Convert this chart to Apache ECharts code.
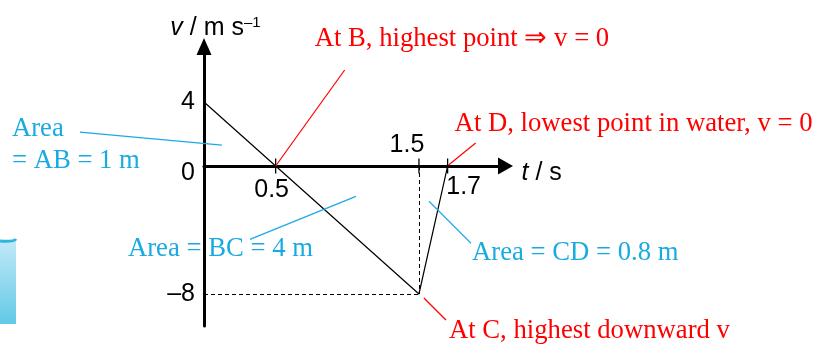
<!DOCTYPE html>
<html>
<head>
<meta charset="utf-8">
<script src="https://cdn.jsdelivr.net/npm/echarts@6/dist/echarts.min.js"></script>
<style>
  html, body { margin: 0; padding: 0; background: #fff; }
  #chart { width: 817px; height: 345px; }
</style>
</head>
<body>
<div id="chart"></div>
<script>
// Velocity–time graph of a diver: A (jump) → B (top) → C (hits water) → D (lowest point)
const timeValues = [0, 0.5, 1.5, 1.7];      // t / s
const velocityValues = [4, 0, -8, 0];       // v / m s^-1
const xTickValues = [0.5, 1.5, 1.7];
const xTickLabels = ['0.5', '1.5', '1.7'];
const yTickValues = [4, 0, -8];
const yTickLabels = ['4', '0', '–8'];

const noteB = 'At B, highest point ⇒ v = 0';
const noteD = 'At D, lowest point in water, v = 0';
const noteC = 'At C, highest downward v';
const noteAB = ['Area', '= AB = 1 m'];
const noteBC = ['Area = BC = 4 m'];
const noteCD = ['Area = CD = 0.8 m'];

// points inside each area where the pointer lines end
const areaPointAB = [0.125, 1.3];
const areaPointBC = [1.06, -1.9];
const areaPointCD = [1.57, -2.2];

const RED = '#ff0000';
const BLUE = '#1aaae2';
const SANS = '"Liberation Sans", Arial, sans-serif';
const SERIF = '"Liberation Serif", "Times New Roman", serif';
const SANS_SIZE = 25;
const SERIF_SIZE = 26.7;

const pt = i => [timeValues[i], velocityValues[i]];

// pointer line (pixel offsets from the anchor) and text placement for each note
const notes = [
  { at: pt(1), color: RED, lead: [[0, 0], [69, -96]], lines: [noteB], tx: 39, ty: [-127] },
  { at: pt(3), color: RED, lead: [[1, -1], [28, -23]], lines: [noteD], tx: 7, ty: [-42] },
  { at: pt(2), color: RED, lead: [[5, 4], [27, 26]], lines: [noteC], tx: 30, ty: [37] },
  { at: areaPointAB, color: BLUE, lead: [[0, 0], [-142, -13]], lines: noteAB, tx: -210, ty: [-16, 16] },
  { at: areaPointBC, color: BLUE, lead: [[0, 0], [-106, 43]], lines: noteBC, tx: -228, ty: [53] },
  { at: areaPointCD, color: BLUE, lead: [[0, 0], [42, 42]], lines: noteCD, tx: 43, ty: [52] }
];

// tick-label offsets (pixels from the tick on the t axis)
const xLabelOffset = [[-4, 24], [-12, -21], [16, 21]];

const chart = echarts.init(document.getElementById('chart'), null, { renderer: 'canvas' });

chart.setOption({
  animation: false,
  backgroundColor: '#fff',
  grid: { left: 204, right: 311.5, top: 46.5, bottom: 19, containLabel: false },
  xAxis: {
    type: 'value',
    min: 0,
    max: 2.104,
    name: '{i|t} / s',
    nameLocation: 'end',
    nameGap: 16,
    nameTextStyle: {
      fontFamily: SANS, fontSize: SANS_SIZE, color: '#000',
      padding: [14, 0, 0, 0],
      rich: { i: { fontFamily: SANS, fontSize: SANS_SIZE, fontStyle: 'italic', color: '#000' } }
    },
    axisLine: {
      show: true, onZero: true,
      symbol: ['none', 'triangle'], symbolSize: [17, 15],
      lineStyle: { color: '#000', width: 3 }
    },
    axisTick: { show: false },
    axisLabel: { show: false },
    splitLine: { show: false }
  },
  yAxis: {
    type: 'value',
    min: -10,
    max: 7.47,
    name: '{i|v} / m s{s|–1}',
    nameLocation: 'end',
    nameGap: 6,
    nameTextStyle: {
      fontFamily: SANS, fontSize: SANS_SIZE, color: '#000',
      align: 'center',
      padding: [0, 0, 0, 23],
      rich: {
        i: { fontFamily: SANS, fontSize: SANS_SIZE, fontStyle: 'italic', color: '#000' },
        s: { fontFamily: SANS, fontSize: 15, color: '#000', verticalAlign: 'top' }
      }
    },
    axisLine: {
      show: true,
      symbol: ['none', 'triangle'], symbolSize: [15, 17],
      lineStyle: { color: '#000', width: 3 }
    },
    axisTick: { show: false },
    splitLine: { show: false },
    axisLabel: {
      customValues: yTickValues,
      margin: 9,
      fontFamily: SANS, fontSize: SANS_SIZE, color: '#000',
      formatter: v => {
        const s = yTickLabels[yTickValues.indexOf(v)];
        return v === 0 ? '{z|' + s + '}' : s;
      },
      rich: { z: { fontFamily: SANS, fontSize: SANS_SIZE, color: '#000', padding: [14, 0, 0, 0] } }
    }
  },
  graphic: [
    {
      type: 'rect', silent: true, z: -1,
      shape: { x: 0, y: 240, width: 16, height: 84 },
      style: {
        fill: new echarts.graphic.LinearGradient(0, 0, 0, 1, [
          { offset: 0, color: '#c2e9f7' },
          { offset: 1, color: '#62c9e6' }
        ])
      }
    },
    {
      type: 'bezierCurve', silent: true,
      shape: { x1: 0, y1: 241, x2: 16, y2: 239, cpx1: 14, cpy1: 242 },
      style: { fill: 'none', stroke: '#2fb4de', lineWidth: 3 }
    }
  ],
  series: [
    {
      name: 'v',
      type: 'line',
      data: timeValues.map((t, i) => [t, velocityValues[i]]),
      showSymbol: false,
      symbol: 'none',
      lineStyle: { color: '#000', width: 1.2 },
      silent: true,
      z: 3,
      markLine: {
        silent: true,
        symbol: 'none',
        label: { show: false },
        lineStyle: { color: '#000', width: 1, type: [4, 3] },
        data: [
          [{ coord: [0, velocityValues[2]] }, { coord: pt(2) }],
          [{ coord: [timeValues[2], 0] }, { coord: pt(2) }]
        ]
      }
    },
    {
      // crossing tick marks and their labels on the t axis
      type: 'custom',
      silent: true,
      clip: false,
      z: 4,
      data: xTickValues.map(t => [t, 0]),
      renderItem: (params, api) => {
        const i = params.dataIndex;
        const p = api.coord([api.value(0), api.value(1)]);
        const off = xLabelOffset[i];
        return {
          type: 'group',
          children: [
            { type: 'line', shape: { x1: p[0], y1: p[1] - 7.5, x2: p[0], y2: p[1] + 7.5 },
              style: { stroke: '#000', lineWidth: 1.3 } },
            { type: 'text',
              style: { text: xTickLabels[i], x: p[0] + off[0], y: p[1] + off[1],
                       align: 'center', verticalAlign: 'middle',
                       font: SANS_SIZE + 'px ' + SANS, fill: '#000' } }
          ]
        };
      }
    },
    {
      // notes with pointer lines
      type: 'custom',
      silent: true,
      clip: false,
      z: 5,
      data: notes.map(n => n.at),
      renderItem: (params, api) => {
        const n = notes[params.dataIndex];
        const p = api.coord([api.value(0), api.value(1)]);
        const children = [
          { type: 'line',
            shape: { x1: p[0] + n.lead[0][0], y1: p[1] + n.lead[0][1],
                     x2: p[0] + n.lead[1][0], y2: p[1] + n.lead[1][1] },
            style: { stroke: n.color, lineWidth: 1.2 } }
        ];
        n.lines.forEach((line, k) => {
          children.push({ type: 'text',
            style: { text: line, x: p[0] + n.tx, y: p[1] + n.ty[k],
                     align: 'left', verticalAlign: 'middle',
                     font: SERIF_SIZE + 'px ' + SERIF, fill: n.color } });
        });
        return { type: 'group', children };
      }
    }
  ]
});
</script>
</body>
</html>
